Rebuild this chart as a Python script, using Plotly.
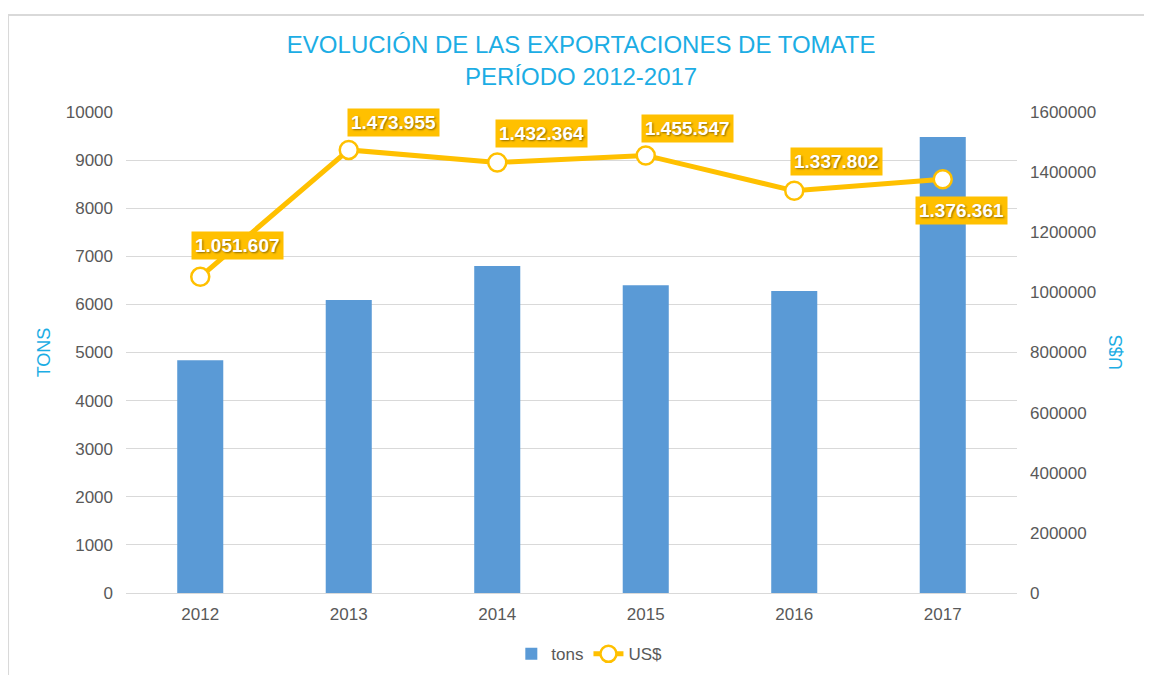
import plotly.graph_objects as go

years = ["2012", "2013", "2014", "2015", "2016", "2017"]
tons = [4840, 6090, 6800, 6400, 6280, 9480]
usd = [1051607, 1473955, 1432364, 1455547, 1337802, 1376361]
usd_labels = ["1.051.607", "1.473.955", "1.432.364", "1.455.547", "1.337.802", "1.376.361"]
label_shift_x = [37, 45, 44, 42, 42, 19]
label_shift_y = [31, 27, 29, 27, 29, -31]

BLUE_T = "#1CADE4"
GRAY = "#595959"
YEL = "#FFC000"
FONT = "Liberation Sans, Arial"

fig = go.Figure()
fig.add_trace(go.Bar(x=years, y=tons, name="tons", width=0.31,
                     marker=dict(color="#5A9AD6", line=dict(width=0)), yaxis="y"))
fig.add_trace(go.Scatter(x=years, y=usd, name="US$", mode="lines+markers", yaxis="y2",
                         line=dict(color=YEL, width=5),
                         marker=dict(size=18, color="white", line=dict(color=YEL, width=2.5))))

for i, (v, t, dx, dy) in enumerate(zip(usd, usd_labels, label_shift_x, label_shift_y)):
    fig.add_annotation(x=i, y=v, xref="x", yref="y2", text="<b>" + t + "</b>", showarrow=False,
                       xshift=dx, yshift=dy, bgcolor=YEL, borderpad=3,
                       font=dict(family=FONT, size=19, color="white",
                                 shadow="1px 1px 2px rgba(0,0,0,0.45)"))

fig.add_shape(type="rect", xref="paper", yref="paper", x0=-0.1324, x1=1.149, y0=-0.2, y1=1.2017,
              line=dict(color="#D9D9D9", width=2), fillcolor="rgba(0,0,0,0)", layer="below")

fig.update_layout(
    width=1144, height=667,
    paper_bgcolor="white", plot_bgcolor="white",
    margin=dict(l=118, r=135, t=104, b=82, autoexpand=False),
    font=dict(family=FONT, size=17, color=GRAY),
    title=dict(text="EVOLUCIÓN DE LAS EXPORTACIONES DE TOMATE<br>PERÍODO 2012-2017",
               x=0.501, xanchor="center", y=0.932, yanchor="top",
               font=dict(size=24, color=BLUE_T)),
    xaxis=dict(type="category", range=[-0.5, len(years) - 0.5], autorange=False,
               showgrid=False, showline=True, linecolor="#D9D9D9", linewidth=1,
               tickfont=dict(size=17, color=GRAY), ticks="", ticklabelstandoff=6),
    yaxis=dict(range=[0, 10000], dtick=1000, showgrid=True, gridcolor="#D9D9D9",
               zeroline=False, tickformat="d", tickfont=dict(size=17, color=GRAY),
               ticklabelstandoff=12,
               title=dict(text="TONS", font=dict(size=18, color=BLUE_T), standoff=10)),
    yaxis2=dict(range=[0, 1600000], dtick=200000, overlaying="y", side="right",
                showgrid=False, zeroline=False, tickformat="d",
                tickfont=dict(size=17, color=GRAY), ticklabelstandoff=12,
                title=dict(text="U$S", font=dict(size=18, color=BLUE_T), standoff=14)),
    legend=dict(orientation="h", x=0.52, xanchor="center", y=-0.09, yanchor="top",
                font=dict(size=17, color=GRAY)),
    showlegend=True,
)

fig.write_html("out.html")
